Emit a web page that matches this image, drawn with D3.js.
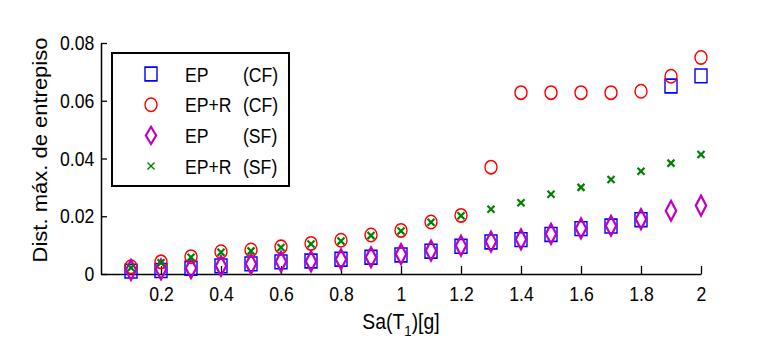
<!DOCTYPE html>
<html>
<head>
<meta charset="utf-8">
<script src="https://cdn.jsdelivr.net/npm/d3@7"></script>
<style>
  body { margin: 0; background: #fff; }
  text { font-family: "Liberation Sans", Arial, sans-serif; fill: #000; }
</style>
</head>
<body>
<div id="container"></div>
<script>
// data
const xs = [0.1, 0.2, 0.3, 0.4, 0.5, 0.6, 0.7, 0.8, 0.9, 1.0, 1.1, 1.2, 1.3, 1.4, 1.5, 1.6, 1.7, 1.8, 1.9, 2.0];
const epCF  = [0.0010, 0.0012, 0.0020, 0.0028, 0.0035, 0.0042, 0.0045, 0.0051, 0.0058, 0.0066, 0.0079, 0.0096, 0.0111, 0.0119, 0.0137, 0.0157, 0.0166, 0.0188, 0.0651, 0.0686];
const eprCF = [0.0025, 0.0042, 0.0060, 0.0077, 0.0083, 0.0094, 0.0106, 0.0117, 0.0135, 0.0151, 0.0180, 0.0203, 0.0370, 0.0628, 0.0628, 0.0628, 0.0628, 0.0633, 0.0685, 0.0750];
const epSF  = [0.0014, 0.0016, 0.0020, 0.0028, 0.0035, 0.0043, 0.0044, 0.0051, 0.0058, 0.0069, 0.0081, 0.0098, 0.0112, 0.0120, 0.0139, 0.0158, 0.0167, 0.0190, 0.0219, 0.0237];
const eprSF = [0.0022, 0.0039, 0.0058, 0.0075, 0.0080, 0.0092, 0.0104, 0.0114, 0.0133, 0.0149, 0.0179, 0.0202, 0.0224, 0.0247, 0.0276, 0.0300, 0.0327, 0.0356, 0.0384, 0.0414];
const xTicks = [0.2, 0.4, 0.6, 0.8, 1, 1.2, 1.4, 1.6, 1.8, 2];
const yTicks = [0, 0.02, 0.04, 0.06, 0.08];
const legendNames = ["EP", "EP+R", "EP", "EP+R"];
const legendTags = ["(CF)", "(CF)", "(SF)", "(SF)"];

const width = 770, height = 350;
const sx = 0.84; // text looks horizontally squeezed

const x = d3.scaleLinear().domain([0, 2]).range([101, 701]);
const y = d3.scaleLinear().domain([0, 0.08]).range([274, 43]);

const series = [
  { values: epCF,  type: d3.symbolSquare,  size: 144, scale: [1, 1.15],  color: "#0000ff", sw: 1.4 },
  { values: eprCF, type: d3.symbolCircle,  size: 113, scale: [1, 1.12],  color: "#ff0000", sw: 1.4 },
  { values: epSF,  type: d3.symbolDiamond, size: 94,  scale: [1.0, 1.1], color: "#bf00bf", sw: 2.2 },
  { values: eprSF, type: d3.symbolTimes,   size: 34,  scale: [1, 1],     color: "#008000", sw: 2.2 }
];

const svg = d3.create("svg")
  .attr("width", width)
  .attr("height", height)
  .attr("viewBox", [0, 0, width, height]);

// axes
const xAxis = svg.append("g")
  .attr("transform", `translate(0,${y(0)})`)
  .call(d3.axisBottom(x).tickValues(xTicks).tickSize(-8).tickSizeOuter(0).tickPadding(12)
    .tickFormat(d => String(+d.toFixed(1))));

const yAxis = svg.append("g")
  .attr("transform", `translate(${x(0)},0)`)
  .call(d3.axisLeft(y).tickValues(yTicks).tickSize(-6).tickSizeOuter(0).tickPadding(8)
    .tickFormat(d => d === 0 ? "0" : d3.format(".2f")(d)));

[xAxis, yAxis].forEach(ax => {
  ax.select(".domain").attr("stroke", "#000").attr("stroke-width", 1.5);
  ax.selectAll(".tick line").attr("stroke", "#000").attr("stroke-width", 1.3);
  ax.selectAll(".tick text")
    .attr("font-size", 21)
    .attr("font-family", "Liberation Sans, Arial, sans-serif")
    .attr("fill", "#000")
    .attr("transform", `scale(${sx},1)`);
});

// axis titles
const xt = svg.append("text")
  .attr("transform", `translate(${x(1)},329) scale(0.88,1)`)
  .attr("text-anchor", "middle")
  .attr("font-size", 22);
xt.append("tspan").text("Sa(T");
xt.append("tspan").attr("font-size", 15).attr("dy", 7).text("1");
xt.append("tspan").attr("dy", -7).text(")[g]");

svg.append("text")
  .attr("transform", "translate(47,150) rotate(-90) scale(1.1,1)")
  .attr("text-anchor", "middle")
  .attr("font-size", 20)
  .text("Dist. máx. de entrepiso");

// markers
const plot = svg.append("g");
series.forEach(s => {
  const sym = d3.symbol().type(s.type).size(s.size);
  plot.append("g").selectAll("path")
    .data(xs.map((v, i) => [v, s.values[i]]))
    .join("path")
    .attr("d", sym)
    .attr("transform", d => `translate(${x(d[0])},${y(d[1])}) scale(${s.scale[0]},${s.scale[1]})`)
    .attr("fill", "none")
    .attr("stroke", s.color)
    .attr("stroke-width", s.sw);
});

// legend
const lg = svg.append("g");
lg.append("rect")
  .attr("x", 112).attr("y", 53)
  .attr("width", 177).attr("height", 133)
  .attr("fill", "#fff")
  .attr("stroke", "#000")
  .attr("stroke-width", 2);

series.forEach((s, i) => {
  const cy = 74 + i * 30.7;
  lg.append("path")
    .attr("d", d3.symbol().type(s.type).size(s.size))
    .attr("transform", `translate(151,${cy}) scale(${s.scale[0]},${i === 2 ? 0.95 : s.scale[1]})`)
    .attr("fill", "none")
    .attr("stroke", s.color)
    .attr("stroke-width", i === 3 ? 1.4 : s.sw);
  lg.append("text")
    .attr("transform", `translate(185,${cy + 7.5}) scale(${sx},1)`)
    .attr("font-size", 21)
    .text(legendNames[i]);
  lg.append("text")
    .attr("transform", `translate(243,${cy + 7.5}) scale(${sx},1)`)
    .attr("font-size", 21)
    .text(legendTags[i]);
});

document.getElementById("container").append(svg.node());
</script>
</body>
</html>
